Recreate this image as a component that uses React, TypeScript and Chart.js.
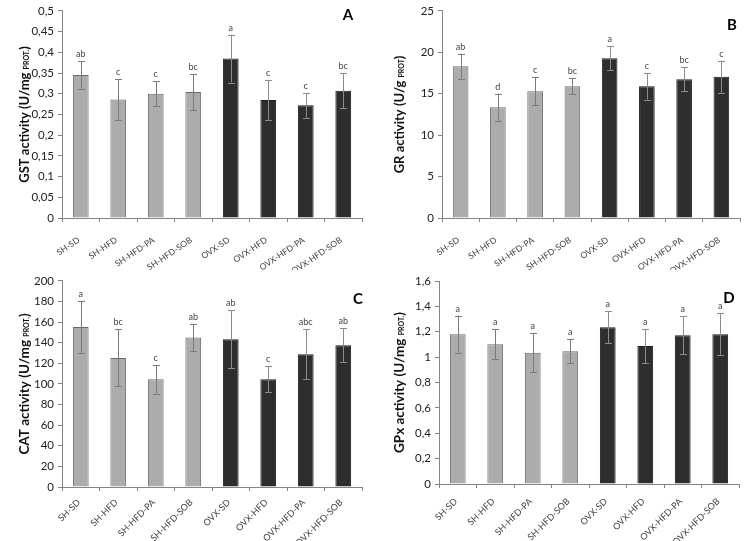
import React, { useEffect, useRef } from "react";
import { Chart, registerables } from "chart.js";
Chart.register(...registerables);

const categories = ["SH-SD", "SH-HFD", "SH-HFD-PA", "SH-HFD-SOB", "OVX-SD", "OVX-HFD", "OVX-HFD-PA", "OVX-HFD-SOB"];

const gstMean = [0.345, 0.286, 0.3, 0.304, 0.385, 0.285, 0.272, 0.307];
const gstSD = [0.033, 0.049, 0.03, 0.043, 0.058, 0.048, 0.03, 0.042];
const gstLetters = ["ab", "c", "c", "bc", "a", "c", "c", "bc"];

const grMean = [18.33, 13.37, 15.31, 15.9, 19.29, 15.9, 16.74, 17.06];
const grSD = [1.5, 1.65, 1.7, 0.95, 1.43, 1.6, 1.43, 1.95];
const grLetters = ["ab", "d", "c", "bc", "a", "c", "bc", "c"];

const catMean = [155.2, 125.3, 104.5, 145, 143.4, 104.5, 128.9, 137.6];
const catSD = [25, 27.7, 13.8, 13, 28, 12.7, 24, 16.5];
const catLetters = ["a", "bc", "c", "ab", "ab", "c", "abc", "ab"];

const gpxMean = [1.181, 1.102, 1.034, 1.047, 1.236, 1.087, 1.173, 1.181];
const gpxSD = [0.147, 0.116, 0.153, 0.097, 0.124, 0.136, 0.15, 0.163];
const gpxLetters = ["a", "a", "a", "a", "a", "a", "a", "a"];

const gstAxis = { max: 0.5, step: 0.05 };
const grAxis = { max: 25, step: 5 };
const catAxis = { max: 200, step: 20 };
const gpxAxis = { max: 1.6, step: 0.2 };

const FONT = "Lato, 'Open Sans', sans-serif";
const LIGHT = "#acacac";
const LIGHT_BORDER = "#6a6a6a";
const DARK = "#2e2e2e";
const DARK_BORDER = "#1c1c1c";
const AXIS = "#858585";

type Panel = {
  id: string;
  x: number; y: number; w: number; h: number;
  area: { left: number; top: number; right: number; bottom: number };
  mean: number[]; sd: number[]; letters: string[];
  axis: { max: number; step: number };
  title: [string, string, string];
  titleX: number; titleSize: number;
  rot: number; labelPad: number; labelSize: number;
  tag: string; tagX: number; tagY: number;
};

const panels: Panel[] = [
  {
    id: "A", x: 0, y: 0, w: 372, h: 270,
    area: { left: 62, top: 8, right: 362, bottom: 218 },
    mean: gstMean, sd: gstSD, letters: gstLetters, axis: gstAxis,
    title: ["GST activity (U/mg ", "PROT.", ")"], titleX: 25, titleSize: 13,
    rot: 34, labelPad: 13, labelSize: 8.5,
    tag: "A", tagX: 348, tagY: 15,
  },
  {
    id: "B", x: 372, y: 0, w: 372, h: 270,
    area: { left: 70, top: 8, right: 368, bottom: 218 },
    mean: grMean, sd: grSD, letters: grLetters, axis: grAxis,
    title: ["GR activity (U/g ", "PROT", ")"], titleX: 28, titleSize: 13,
    rot: 34, labelPad: 13, labelSize: 8.5,
    tag: "B", tagX: 360, tagY: 25,
  },
  {
    id: "C", x: 0, y: 270, w: 372, h: 271,
    area: { left: 62, top: 10, right: 362, bottom: 217 },
    mean: catMean, sd: catSD, letters: catLetters, axis: catAxis,
    title: ["CAT activity (U/mg ", "PROT.", ")"], titleX: 25, titleSize: 13.5,
    rot: 45, labelPad: 6, labelSize: 9,
    tag: "C", tagX: 358, tagY: 29,
  },
  {
    id: "D", x: 372, y: 270, w: 372, h: 271,
    area: { left: 67, top: 11, right: 367, bottom: 214 },
    mean: gpxMean, sd: gpxSD, letters: gpxLetters, axis: gpxAxis,
    title: ["GPx activity (U/mg ", "PROT.", ")"], titleX: 28, titleSize: 13.5,
    rot: 45, labelPad: 8, labelSize: 9,
    tag: "D", tagX: 357, tagY: 28,
  },
];

const fmt = (v: number) => String(Math.round(v * 100) / 100).replace(".", ",");

const decorPlugin = {
  id: "decor",
  afterDatasetsDraw(chart: any, _args: any, opts: any) {
    const p: Panel = opts.panel;
    const ctx = chart.ctx;
    const yScale = chart.scales.y;
    const meta = chart.getDatasetMeta(0);
    ctx.save();
    meta.data.forEach((bar: any, i: number) => {
      const x = bar.x;
      const top = yScale.getPixelForValue(p.mean[i] + p.sd[i]);
      const bot = yScale.getPixelForValue(p.mean[i] - p.sd[i]);
      ctx.strokeStyle = i < 4 ? "#7a7a7a" : "#8c8c8c";
      ctx.lineWidth = 1;
      ctx.beginPath();
      ctx.moveTo(Math.round(x) + 0.5, top);
      ctx.lineTo(Math.round(x) + 0.5, bot);
      ctx.moveTo(Math.round(x) - 3, Math.round(top) + 0.5);
      ctx.lineTo(Math.round(x) + 4, Math.round(top) + 0.5);
      ctx.moveTo(Math.round(x) - 3, Math.round(bot) + 0.5);
      ctx.lineTo(Math.round(x) + 4, Math.round(bot) + 0.5);
      ctx.stroke();
      ctx.fillStyle = "#444";
      ctx.font = `9px ${FONT}`;
      ctx.textAlign = "center";
      ctx.textBaseline = "alphabetic";
      ctx.fillText(p.letters[i], x, top - 4);
    });
    // panel tag
    ctx.fillStyle = "#000";
    ctx.font = `bold 15px ${FONT}`;
    ctx.textAlign = "center";
    ctx.textBaseline = "middle";
    ctx.fillText(p.tag, p.tagX, p.tagY);
    // y title
    const big = `bold ${p.titleSize}px ${FONT}`;
    const small = `bold ${Math.round(p.titleSize * 0.55)}px ${FONT}`;
    ctx.font = big;
    const w1 = ctx.measureText(p.title[0]).width;
    const w3 = ctx.measureText(p.title[2]).width;
    ctx.font = small;
    const w2 = ctx.measureText(p.title[1]).width;
    const total = w1 + w2 + w3;
    const cy = (chart.chartArea.top + chart.chartArea.bottom) / 2;
    ctx.translate(p.titleX, cy);
    ctx.rotate(-Math.PI / 2);
    ctx.textAlign = "left";
    ctx.textBaseline = "middle";
    ctx.fillStyle = "#111";
    let sx = -total / 2;
    ctx.font = big;
    ctx.fillText(p.title[0], sx, 0);
    sx += w1;
    ctx.font = small;
    ctx.fillText(p.title[1], sx, 2);
    sx += w2;
    ctx.font = big;
    ctx.fillText(p.title[2], sx, 0);
    ctx.restore();
  },
};

function PanelChart({ p }: { p: Panel }) {
  const ref = useRef<HTMLCanvasElement | null>(null);
  useEffect(() => {
    if (!ref.current) return;
    const chart = new Chart(ref.current, {
      type: "bar",
      data: {
        labels: categories,
        datasets: [
          {
            data: p.mean,
            backgroundColor: categories.map((_, i) => (i < 4 ? LIGHT : DARK)),
            borderColor: categories.map((_, i) => (i < 4 ? LIGHT_BORDER : DARK_BORDER)),
            borderWidth: 1,
            barPercentage: 0.42,
            categoryPercentage: 1,
          },
        ],
      },
      options: {
        responsive: false,
        animation: false,
        devicePixelRatio: 1,
        layout: {
          padding: { left: 0, top: p.area.top, right: p.w - p.area.right, bottom: 0 },
        },
        plugins: {
          legend: { display: false },
          tooltip: { enabled: false },
          decor: { panel: p },
        } as any,
        scales: {
          x: {
            offset: true,
            grid: {
              offset: true,
              drawOnChartArea: false,
              drawTicks: true,
              tickLength: 4,
              color: AXIS,
            },
            border: { display: true, color: AXIS, width: 1 },
            ticks: {
              autoSkip: false,
              minRotation: p.rot,
              maxRotation: p.rot,
              padding: p.labelPad,
              labelOffset: -2,
              color: "#404040",
              font: { family: FONT, size: p.labelSize },
            },
            afterFit(scale: any) {
              scale.height = p.h - p.area.bottom;
            },
          },
          y: {
            min: 0,
            max: p.axis.max,
            grid: {
              drawOnChartArea: false,
              drawTicks: true,
              tickLength: 4,
              color: AXIS,
            },
            border: { display: true, color: AXIS, width: 1 },
            ticks: {
              stepSize: p.axis.step,
              padding: 4,
              color: "#222",
              font: { family: FONT, size: 11.5 },
              callback: (v: any) => fmt(Number(v)),
            },
            afterFit(scale: any) {
              scale.width = p.area.left;
            },
          },
        },
      },
      plugins: [decorPlugin],
    });
    return () => chart.destroy();
  }, [p]);
  return (
    <canvas
      ref={ref}
      width={p.w}
      height={p.h}
      style={{ position: "absolute", left: p.x, top: p.y, width: p.w, height: p.h }}
    />
  );
}

export default function App() {
  return (
    <div style={{ position: "absolute", left: 0, top: 0, width: 744, height: 541, background: "#fff" }}>
      {panels.map((p) => (
        <PanelChart key={p.id} p={p} />
      ))}
    </div>
  );
}
